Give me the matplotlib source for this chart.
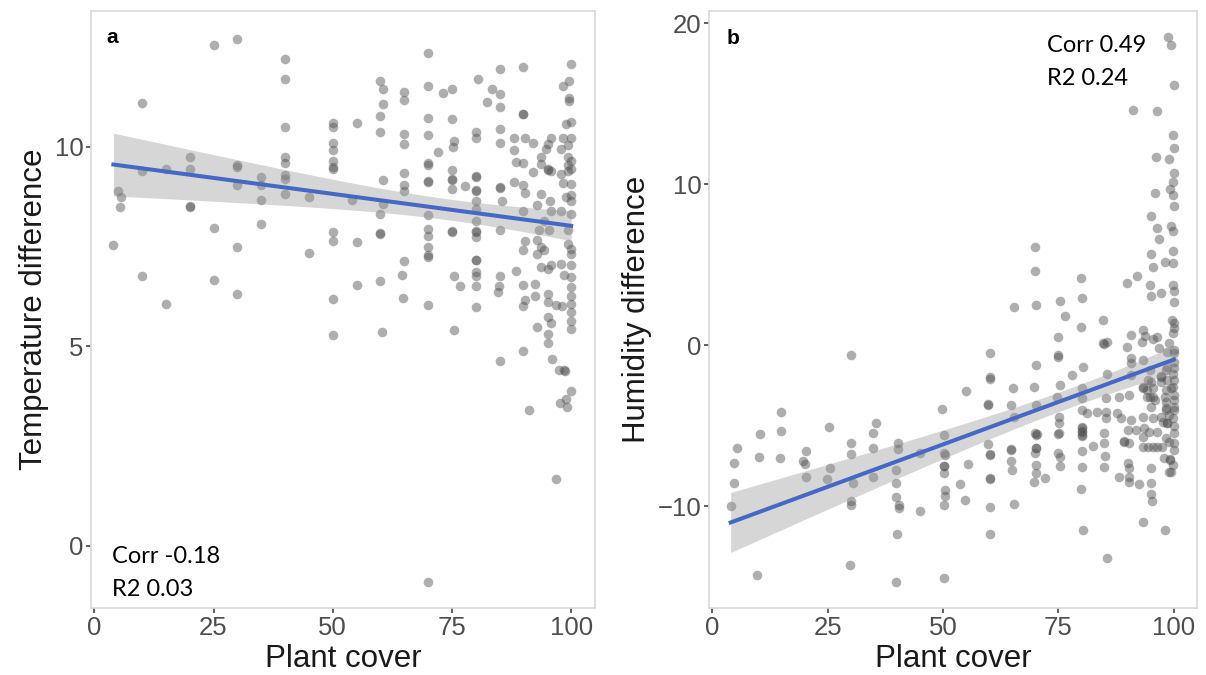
import numpy as np
import matplotlib
matplotlib.use('Agg')
import matplotlib.pyplot as plt

# Panel a: plant cover vs temperature difference
temp_points = [
    (25, 12.55), (30, 12.7), (40, 12.2), (40, 11.7), (10, 11.1), (40, 10.5),
    (50, 10.6), (50, 10.5), (50, 10.08), (50, 9.92), (50, 9.65), (50, 9.5),
    (50, 9.45), (20, 9.73), (30, 9.53), (30, 9.5), (40, 9.73), (40, 9.6),
    (10, 9.4), (15, 9.44), (20, 9.43), (35, 9.23), (40, 9.3), (35, 9.03),
    (30, 9.03), (40, 9.2), (40, 8.82), (45, 8.75), (35, 8.67), (5, 8.88),
    (5.5, 8.75), (5.4, 8.5), (20, 8.52), (20, 8.48), (25, 7.97), (35, 8.05),
    (50, 7.87), (50, 7.63), (4, 7.54), (30, 7.48), (45, 7.33), (10, 6.75),
    (25, 6.65), (30, 6.3), (50, 6.18), (15, 6.05), (50, 5.28),
    (55, 10.59), (54, 8.67), (55, 7.61), (55, 6.54),
    (60, 11.64), (60.5, 11.44), (60.5, 11.07), (60, 10.76), (60, 10.38),
    (60.5, 9.17), (60.5, 8.57), (60, 8.32), (60, 7.84), (60, 7.82),
    (60, 6.64), (60.3, 5.36),
    (65, 11.37), (65, 11.18), (65, 10.32), (65, 10.07), (65, 9.34), (65, 9.05),
    (65, 8.88), (65, 7.13), (64.5, 6.79), (64.7, 6.2),
    (70, 12.35), (70, 11.52), (70, 10.72), (70, 10.3), (70, 9.58), (70, 9.54),
    (70, 9.14), (70, 9.12), (70, 8.28), (70, 7.93), (70, 7.77), (70, 7.48),
    (70, 7.28), (70, 7.23), (70, 6.04), (70, -0.9), (72, 9.87),
    (75, 11.45), (73.2, 11.35), (75, 10.69), (75.5, 10.15), (75.3, 9.98),
    (75, 9.42), (75, 9.19), (75, 9.17), (75, 8.94), (75, 7.88), (75, 7.86),
    (75.5, 6.75), (76.6, 6.52), (75.5, 5.41), (77.8, 9.01),
    (80.5, 11.69), (80, 10.38), (80, 10.22), (80, 9.26), (80, 9.24), (80, 8.92),
    (80, 8.9), (80, 8.65), (80, 8.44), (80, 8.15), (80, 7.88), (80, 7.86),
    (80, 7.73), (80, 7.17), (80, 7.15), (80, 6.86), (80, 6.77), (80, 6.52),
    (80, 5.98),
    (85, 11.95), (85, 11.31), (85, 11.0), (85, 10.45), (85, 10.08), (85, 8.98),
    (85, 8.96), (85.5, 8.65), (85, 7.92), (85, 6.75), (84.8, 6.5), (84.6, 6.37),
    (83.3, 11.44), (82.4, 11.11), (85, 4.63),
    (90, 11.99), (90, 10.83), (90, 10.81), (90.3, 10.23), (88, 10.21), (88, 9.92),
    (88.5, 9.61), (90, 9.58), (88, 9.11), (90, 9.05), (90.3, 8.83), (90, 8.38),
    (90.3, 7.63), (90, 7.42), (88.5, 6.89), (90, 6.53), (90.3, 6.17), (90, 4.87),
    (91.1, 3.39), (90, 6.0),
    (92, 10.08), (95.8, 10.22), (95.1, 10.07), (94.8, 9.94), (93.7, 9.73),
    (93.6, 9.57), (95.1, 9.44), (95.1, 9.42), (92, 9.36), (95.8, 9.4),
    (93.7, 8.82), (95.5, 8.65), (92.9, 8.53), (95.8, 8.4), (94.4, 8.15),
    (93.2, 7.9), (95.3, 7.9), (92.9, 7.65), (93.7, 7.48), (94.4, 7.4),
    (92.9, 7.32), (93.6, 6.98), (95.8, 7.03), (95.1, 6.94), (92.4, 6.55),
    (92.4, 6.25), (95.1, 6.32), (95.1, 6.11), (96.9, 6.03), (92.9, 5.48),
    (95.1, 5.73), (95.8, 5.58), (95.1, 5.3), (95.1, 5.08), (96, 4.69),
    (96.9, 1.68), (98, 6.0),
    (100, 12.07), (99.5, 11.65), (98.3, 11.53), (99.5, 11.22), (99.5, 11.15),
    (100, 10.61), (99, 10.57), (98.3, 10.23), (99.9, 10.23), (99.4, 10.03),
    (97.9, 9.94), (99.4, 9.75), (100, 9.65), (99.4, 9.53), (100, 9.44),
    (99.4, 9.4), (97.9, 9.32), (98.3, 9.08), (99.9, 9.07), (100, 8.78),
    (99, 8.73), (100, 8.65), (97.9, 8.4), (100, 8.32), (99.3, 7.9),
    (99.3, 7.57), (100, 7.44), (100, 7.32), (97.9, 7.07), (100, 7.03),
    (98.6, 6.78), (100, 6.73), (99.9, 6.48), (100, 6.25), (100, 6.06),
    (100, 5.86), (100, 5.63), (99.9, 5.43), (98.6, 4.4), (98.7, 4.38),
    (100, 3.88), (99, 3.68), (97.7, 3.57), (99.2, 3.48), (97.4, 4.4),
]

# Panel b: plant cover vs humidity difference
humid_points = [
    (4, -9.96), (4.8, -7.31), (4.8, -8.55), (5.4, -6.34), (9.6, -14.26),
    (10.4, -5.5), (10.2, -6.9), (14.9, -4.13), (15, -5.29), (14.7, -6.98),
    (19.6, -7.15), (20.1, -7.38), (20.4, -6.55), (20.4, -8.14), (25.2, -5.08),
    (25.5, -7.64), (24.9, -8.29), (30.1, -0.6), (30, -6.03), (30, -6.76),
    (30.4, -8.55), (30, -9.65), (30, -9.9), (29.9, -13.66), (35.4, -4.83),
    (34.8, -5.41), (34.8, -6.4), (34.9, -8.14), (40.2, -6.07), (40.2, -6.43),
    (39.9, -7.73), (39.9, -8.55), (39.9, -9.42), (40.4, -9.9), (40.4, -10.1),
    (40.1, -11.7), (39.8, -14.67), (44.9, -6.65), (44.9, -10.27), (49.8, -3.95),
    (50.1, -5.54), (50.1, -6.7), (50.4, -6.8), (50.1, -7.46), (50.1, -7.5),
    (50.1, -7.93), (50.4, -8.97), (50.4, -9.32), (50.1, -9.9), (50.2, -14.44),
    (53.7, -8.6),
    (98.8, 19.14), (99.3, 18.66), (100, 16.18), (91.2, 14.59), (96.4, 14.55),
    (99.7, 13.04), (100, 12.26), (96.1, 11.7), (99, 11.55), (100, 10.67),
    (99.9, 10.15), (99.2, 9.68), (95.9, 9.43), (99.9, 9.32), (100, 8.66),
    (95, 8.02), (96.3, 7.3), (99.3, 7.4), (99.9, 7.09), (96.8, 6.6),
    (70, 6.12), (70, 4.63), (95, 5.64), (99.7, 5.87), (98.1, 5.15),
    (99.9, 5.09), (95.4, 4.88), (79.8, 4.2), (91.9, 4.3), (89.8, 3.89),
    (94.9, 3.74), (97.2, 3.23), (95, 3.06), (99.9, 3.74), (100, 3.39),
    (65.3, 2.36), (70.1, 2.5), (75.4, 2.75), (80, 2.92), (100, 2.67),
    (76.4, 1.84), (84.7, 1.6), (99.6, 1.6),
    (79.8, 1.16), (100, 1.36), (100, 1.05), (99.9, 0.74), (93.4, 0.95),
    (93.8, 0.58), (95.4, 0.37), (96.3, 0.54), (90.8, 0.64), (93, 0.23),
    (89.8, -0.08), (84.7, 0.17), (84.9, 0.1), (85.5, 0.23), (75, 0.54),
    (75, -0.6), (74.8, -0.7), (60.1, -0.5), (96.8, -0.19), (98.9, 0.12),
    (100, -0.29), (98.6, -0.39), (100, -0.5), (90.8, -0.81), (90.8, -1.12),
    (93.4, -0.91), (70.1, -1.22), (80.3, -1.32), (77.9, -1.84), (60.1, -1.94),
    (60.1, -2.09), (85.4, -1.78), (90.6, -1.84), (94.3, -2.15), (97.2, -1.94),
    (97.2, -1.9), (98.6, -2.15), (100, -1.43), (100, -2.15),
    (54.9, -2.81), (65.1, -2.67), (69.8, -2.6), (75.3, -2.46), (80.1, -2.67),
    (93.4, -2.67), (93.4, -2.6), (94.1, -2.77), (95.5, -2.67), (98.3, -2.77),
    (99.4, -2.67),
    (59.8, -3.7), (59.8, -3.65), (64.8, -3.7), (70.1, -3.7), (74.7, -3.18),
    (80.1, -3.28), (85.2, -3.28), (88.1, -3.18), (90.3, -3.08), (94.1, -3.18),
    (94.9, -3.18), (98.3, -3.49), (100, -3.39), (96, -3.39),
    (65.3, -4.42), (80.1, -4.01), (81.2, -4.21), (83.4, -4.11), (85.2, -4.11),
    (87.7, -4.21), (98.3, -4.01), (100, -4.01), (75.1, -4.42), (85.2, -4.52),
    (88.5, -4.52), (90.6, -4.63), (93.2, -4.42), (95.5, -4.52), (97.1, -4.42),
    (98.9, -4.32),
    (75.1, -4.83), (80.1, -5.04), (80, -5.1), (80.1, -5.35), (80, -5.3),
    (80.1, -5.56), (80, -5.6), (75.1, -5.45), (75, -5.5), (70.2, -5.56),
    (70.3, -5.5), (70, -5.45), (84.9, -5.45), (90, -5.25), (91.7, -5.25),
    (93.5, -5.14), (94.6, -5.35), (96.4, -5.35), (93.2, -5.66), (98.6, -4.83),
    (98.6, -4.8), (100, -5.0), (98.2, -5.76),
    (54.8, -9.59), (55.3, -7.38), (59.7, -6.12), (60.2, -6.8), (60.2, -6.75),
    (60.2, -8.29), (60.2, -8.25), (60.2, -10.04), (60.1, -11.72), (64.8, -6.49),
    (64.8, -6.45), (64.8, -7.17), (65, -7.73), (65.3, -9.84), (70.2, -6.38),
    (70.2, -6.35), (70, -6.7), (70.1, -7.42), (70.1, -7.93), (69.8, -8.51),
    (72, -8.24), (74.8, -6.7), (75.3, -6.9), (75.3, -7.46), (80.1, -6.53),
    (80.1, -7.56), (79.8, -8.9), (80.4, -11.45), (82.5, -6.24), (84.9, -6.07),
    (85.1, -6.86), (84.9, -7.52), (85.4, -13.2), (89.2, -5.97), (89.2, -5.95),
    (90.3, -6.07), (88, -8.18), (90.1, -7.31), (90.3, -7.62), (90.3, -8.14),
    (90.3, -8.51), (92.4, -8.62), (93.4, -6.28), (94.3, -6.28), (95.4, -6.28),
    (96.4, -6.28), (97.5, -6.28), (98.9, -5.97), (95, -7.62), (95, -8.55),
    (95, -9.24), (95.2, -9.63), (93.2, -10.99), (98.1, -11.45), (97.9, -7.0),
    (99.2, -7.11), (99.2, -7.05), (100, -6.49), (99, -7.83),
    (100, -1.01), (99.9, -1.78), (99.7, -2.56), (100, -3.08), (100, -3.8),
    (99.9, -4.52), (100, -5.45), (100, -6.07), (99.9, -7.42), (99.3, -7.83),
    (98.5, -1.32), (98.2, -1.53), (97.1, -2.25), (98, -3.18), (98.3, -3.9),
    (97.6, -4.73), (94.9, -1.53), (95, -2.25), (95.4, -3.18), (95, -3.8),
]

x_ticks = [0, 25, 50, 75, 100]
temp_yticks = [0, 5, 10]
humid_yticks = [-10, 0, 10, 20]

plt.rcParams['font.family'] = ['Liberation Sans', 'DejaVu Sans']

W, H = 1206, 675


def lm_fit(x, y):
    # linear model with 95% confidence band, like geom_smooth(method='lm')
    n = len(x)
    b1, b0 = np.polyfit(x, y, 1)
    xs = np.linspace(x.min(), x.max(), 100)
    resid = y - (b0 + b1 * x)
    s = np.sqrt(np.sum(resid ** 2) / (n - 2))
    sxx = np.sum((x - x.mean()) ** 2)
    se = s * np.sqrt(1.0 / n + (xs - x.mean()) ** 2 / sxx)
    fit = b0 + b1 * xs
    return xs, fit, fit - 1.97 * se, fit + 1.97 * se


def style_axes(ax):
    for sp in ax.spines.values():
        sp.set_color('#D9D9D9')
        sp.set_linewidth(1.2)
    ax.tick_params(direction='out', length=3.5, width=1.1, color='#333333',
                   labelcolor='#4D4D4D', labelsize=18.5, pad=2)


def panel(ax, points, ylabel, yticks, ylim, tag, notes, note_x, note_y):
    x = np.array([p[0] for p in points], dtype=float)
    y = np.array([p[1] for p in points], dtype=float)
    xs, fit, lo, hi = lm_fit(x, y)
    ax.scatter(x, y, s=48, color='#4D4D4D', alpha=0.45, linewidths=0, zorder=2)
    ax.fill_between(xs, lo, hi, color='#999999', alpha=0.4, linewidth=0, zorder=3)
    ax.plot(xs, fit, color='#4468C4', linewidth=2.9, zorder=4)
    ax.set_xlim(-0.7, 105)
    ax.set_ylim(*ylim)
    ax.set_xticks(x_ticks)
    ax.set_yticks(yticks)
    ax.set_xlabel('Plant cover', fontsize=22.5, color='#1A1A1A', labelpad=3)
    ax.set_ylabel(ylabel, fontsize=22.5, color='#1A1A1A', labelpad=4)
    style_axes(ax)
    ax.text(tag[0], tag[1], tag[2], transform=ax.transAxes, fontsize=15,
            fontweight='bold', color='black', va='baseline')
    for txt, yy in zip(notes, note_y):
        ax.text(note_x, yy, txt, transform=ax.transAxes, fontsize=17,
                family=['Lato', 'DejaVu Sans'], color='black', va='baseline')


fig = plt.figure(figsize=(W / 100, H / 100), dpi=100)
ax_a = fig.add_axes([91 / W, 1 - 608 / H, 504 / W, 597 / H])
ax_b = fig.add_axes([709 / W, 1 - 608 / H, 488 / W, 597 / H])

panel(ax_a, temp_points, 'Temperature difference', temp_yticks, (-1.56, 13.4),
      (0.031, 0.946, 'a'), ['Corr -0.18', 'R2 0.03'], 0.042, [0.0754, 0.0201])
panel(ax_b, humid_points, 'Humidity difference', humid_yticks, (-16.3, 20.75),
      (0.037, 0.945, 'b'), ['Corr 0.49', 'R2 0.24'], 0.693, [0.9305, 0.876])

fig.savefig('out.png', dpi=100)
